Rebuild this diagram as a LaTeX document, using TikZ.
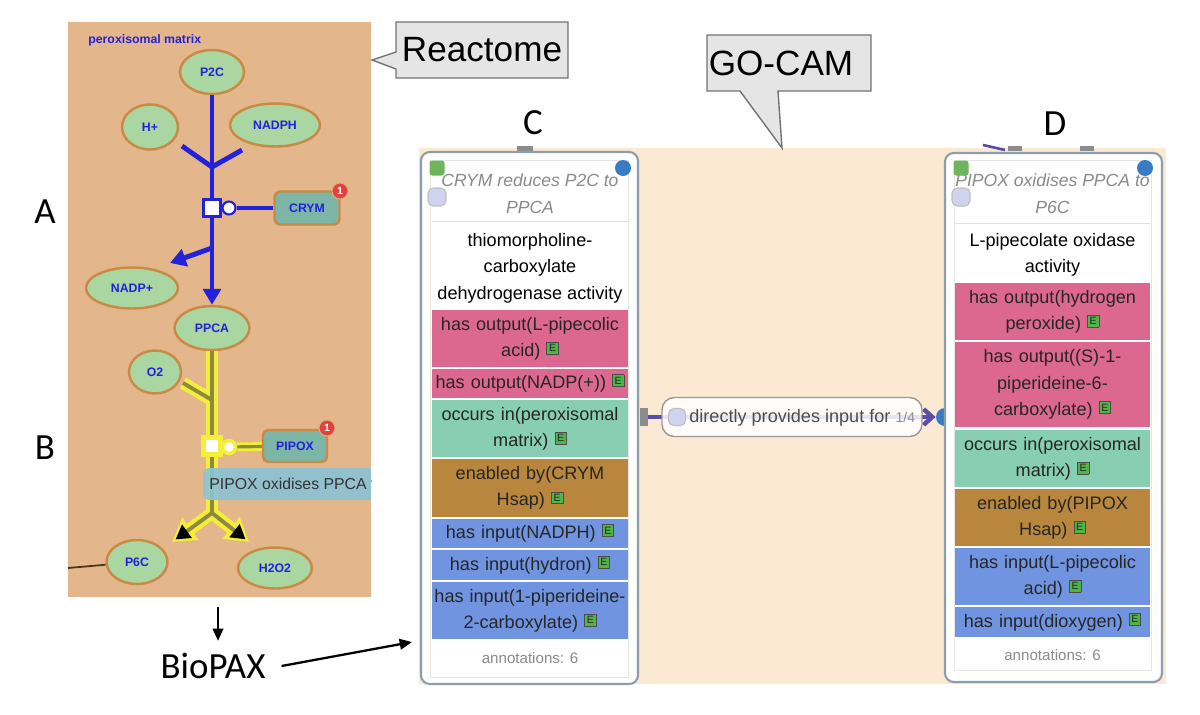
\documentclass[tikz,border=0pt]{standalone}
\usepackage{fontspec}
\setmainfont{Liberation Sans}
\newfontfamily\carlitofont{Carlito}
\usetikzlibrary{arrows.meta,shapes.geometric,positioning}

\definecolor{reactbg}{HTML}{E4B68B}
\definecolor{molfill}{HTML}{A9D6A1}
\definecolor{molline}{HTML}{C98A45}
\definecolor{protfill}{HTML}{7DB6A6}
\definecolor{rblue}{HTML}{2222DC}
\definecolor{hilite}{HTML}{F4EE3A}
\definecolor{stemolive}{HTML}{8C8A3E}
\definecolor{tipblue}{HTML}{8CC3D3}
\definecolor{badgered}{HTML}{E0413C}
\definecolor{gocambg}{HTML}{FCE9D3}
\definecolor{cardline}{HTML}{8E9DAA}
\definecolor{outpink}{HTML}{DC6890}
\definecolor{occteal}{HTML}{87CEB2}
\definecolor{enbrown}{HTML}{B8863C}
\definecolor{inblue}{HTML}{7094E0}
\definecolor{egreen}{HTML}{4FB548}
\definecolor{icongreen}{HTML}{6DB65B}
\definecolor{bubblefill}{HTML}{E5E5E5}
\definecolor{titlegray}{HTML}{8A8A8A}
\definecolor{lavender}{HTML}{CFD3EE}
\definecolor{relpurple}{HTML}{5A4CA8}
\definecolor{dotblue}{HTML}{3A7CC4}

\newcommand{\Ebadge}{~\raisebox{2.5pt}{\setlength{\fboxsep}{1.1pt}\setlength{\fboxrule}{0.4pt}\fcolorbox{black!70}{egreen}{\fontsize{6}{6}\selectfont E}}}

\begin{document}
\begin{tikzpicture}[x=0.02cm,y=-0.02cm,
	mol/.style={ellipse,draw=molline,line width=1.4pt,fill=molfill,text=rblue,font=\bfseries\fontsize{7}{8}\selectfont,inner sep=0pt},
	prot/.style={rectangle,rounded corners=3pt,draw=molline,line width=1.4pt,fill=protfill,text=rblue,font=\bfseries\fontsize{7}{8}\selectfont,inner sep=0pt},
	badge/.style={circle,fill=badgered,draw=molline!70,line width=0.6pt,text=white,font=\bfseries\fontsize{6}{6}\selectfont,inner sep=0pt,minimum size=0.32cm},
	rline/.style={draw=rblue,line width=2.8pt},
	rarrow/.style={rline,-{Triangle[length=9pt,width=10pt]}},
	proc/.style={rectangle,fill=white,draw=rblue,line width=1.2pt,minimum size=0.34cm,inner sep=0pt},
	cat/.style={circle,fill=white,draw=rblue,line width=1.2pt,minimum size=0.26cm,inner sep=0pt},
	hlglow/.style={draw=hilite,line width=7pt},
	hlstem/.style={draw=stemolive,line width=2.2pt},
	tooltip/.style={fill=tipblue,fill opacity=0.92,text opacity=1,rounded corners=3pt,minimum height=0.64cm,inner xsep=0.12cm,text=black!80,font=\fontsize{9}{10}\selectfont},
	bubble/.style={fill=bubblefill,draw=black!55,line width=0.8pt},
	bubblefont/.style={font=\fontsize{20}{24}\selectfont},
	biglabel/.style={font=\carlitofont\fontsize{21}{25}\selectfont},
	blackarrow/.style={line width=1.3pt,-{Triangle[length=7pt,width=6pt]}},
	card/.style={fill=white,draw=cardline,line width=1.2pt,rounded corners=5pt},
	cardtitle/.style={align=center,text=titlegray,font=\titlefont},
	cardtext/.style={align=center,font=\cardfont},
	cardrow/.style={text width=3.86cm,inner xsep=0.03cm,inner ysep=0pt,align=center,text=black!85,font=\cardfont},
	annot/.style={text=titlegray,font=\fontsize{8.6}{10}\selectfont},
	gsq/.style={rectangle,fill=icongreen,rounded corners=1.5pt,minimum size=0.3cm,inner sep=0pt},
	lavsq/.style={rectangle,fill=lavender,draw=black!25,line width=0.6pt,rounded corners=3pt,minimum size=0.36cm,inner sep=0pt},
	bdot/.style={circle,fill=dotblue,minimum size=0.32cm,inner sep=0pt},
	]
	\newcommand{\cardfont}{\fontsize{10.3}{15}\selectfont}
	\newcommand{\titlefont}{\itshape\fontsize{10}{15.3}\selectfont}
	\useasboundingbox (0,0) rectangle (1200,714);
	%reactome panel
	\fill[reactbg] (68,22) rectangle (371,597);
	\node[font=\bfseries\fontsize{7}{8}\selectfont,text=rblue,anchor=west,inner sep=0pt] (compartment) at (88,40) {peroxisomal matrix};
	%molecules
	\node[mol,minimum width=1.28cm,minimum height=0.88cm] (p2c) at (212,72) {P2C};
	\node[mol,minimum width=1.12cm,minimum height=0.9cm] (hplus) at (150,127) {H+};
	\node[mol,minimum width=1.8cm,minimum height=0.86cm] (nadph) at (275,125) {NADPH};
	\node[mol,minimum width=1.84cm,minimum height=0.82cm] (nadpplus) at (132,288) {NADP+};
	\node[mol,minimum width=1.5cm,minimum height=0.88cm] (ppca) at (212,328) {PPCA};
	\node[mol,minimum width=1.04cm,minimum height=0.86cm] (o2) at (155,372) {O2};
	\node[mol,minimum width=1.22cm,minimum height=0.88cm] (p6c) at (137,562) {P6C};
	\node[mol,minimum width=1.48cm,minimum height=0.82cm] (h2o2) at (275,568) {H2O2};
	%first reaction
	\coordinate (j1) at (212,167);
	\coordinate (hplus-end) at (182,146);
	\coordinate (nadph-end) at (242,150);
	\coordinate (s1) at (212,248);
	\coordinate (nadp-tip) at (170,263);
	\draw[rarrow] (p2c.south) -- (ppca.north);
	\draw[rline] (hplus-end) -- (j1);
	\draw[rline] (nadph-end) -- (j1);
	\draw[rarrow] (s1) -- (nadp-tip);
	\node[proc] (proc1) at (212,208) {};
	\node[cat] (cat1) at (229,208) {};
	\node[prot,minimum width=1.3cm,minimum height=0.66cm] (crym) at (307,208) {CRYM};
	\draw[rline] (cat1) -- (crym);
	\node[badge] (crym-badge) at (340,191) {1};
	%second reaction
	\coordinate (j2) at (212,400);
	\coordinate (j3) at (212,513);
	\coordinate (o2-end) at (183,383);
	\coordinate (p6c-tip) at (172,542);
	\coordinate (h2o2-tip) at (249,542);
	\foreach \s/\e in {ppca.south/j3,o2-end/j2}
		\draw[hlglow] (\s) -- (\e);
	\foreach \e in {p6c-tip,h2o2-tip}
		\draw[hlglow,-{Triangle[length=13pt,width=15pt]}] (j3) -- (\e);
	\foreach \s/\e in {ppca.south/j3,o2-end/j2}
		\draw[hlstem] (\s) -- (\e);
	\foreach \e in {p6c-tip,h2o2-tip}
		\draw[hlstem,shorten >=2.5pt,-{Triangle[length=8pt,width=9pt,color=black]}] (j3) -- (\e);
	\node[proc,draw=hilite,line width=2.5pt] (proc2) at (212,446) {};
	\node[cat,draw=hilite,line width=2pt] (cat2) at (229,447) {};
	\node[prot,minimum width=1.28cm,minimum height=0.64cm] (pipox) at (295,446) {PIPOX};
	\draw[hlglow,line width=5pt] (cat2) -- (pipox);
	\draw[hlstem,line width=1.8pt] (cat2) -- (pipox);
	\node[badge] (pipox-badge) at (327,428) {1};
	\begin{scope}
		\clip (68,22) rectangle (371,597);
		\node[tooltip,anchor=west] (tip) at (203,484) {PIPOX oxidises PPCA to P6C};
	\end{scope}
	\coordinate (off-left) at (68,568);
	\draw[draw=black!60!brown,line width=1pt] (off-left) -- (p6c);
	%panel labels
	\node[biglabel] (lbl-a) at (45,212) {A};
	\node[biglabel] (lbl-b) at (45,448) {B};
	\node[biglabel] (lbl-c) at (533,123) {C};
	\node[biglabel] (lbl-d) at (1055,124) {D};
	%biopax
	\node[biglabel,inner xsep=9pt,inner ysep=6.8pt] (biopax) at (213,666) {BioPAX};
	\coordinate (panel-bottom) at (218,607);
	\coordinate (card-c-in) at (412,642);
	\draw[blackarrow] (panel-bottom) -- (panel-bottom |- biopax.north);
	\draw[blackarrow] (biopax.east) -- (card-c-in);
	%go-cam canvas
	\fill[gocambg] (419,148) rectangle (1166,684);
	\fill[black!45] (517,146) rectangle (533,151);
	\fill[black!45] (1008,146) rectangle (1022,151);
	\fill[black!45] (1080,146) rectangle (1094,151);
	\draw[relpurple,line width=1.5pt] (983,145) -- (1005,150);
	\node[bdot,minimum size=0.36cm] (d-port) at (945,417) {};
	%callouts
	\draw[bubble] (396,22) -- (568,22) -- (568,78) -- (396,78) -- (396,69) -- (372,60) -- (396,52) -- cycle;
	\node[bubblefont] (reactome) at (482,50) {Reactome};
	\draw[bubble] (707,35) -- (871,35) -- (871,91) -- (778,91) -- (782,148) -- (740,91) -- (707,91) -- cycle;
	\node[bubblefont] (gocam) at (781,63) {GO-CAM};
	%card C
	\draw[card] (421,152) rectangle (638,684);
	\draw[black!10] (430,160) rectangle (628,677);
	\node[cardtitle] (c-title) at (530,193.5) {CRYM reduces P2C to\\PPCA};
	\draw[black!12] (432,221) -- (628,221);
	\node[cardtext] (c-act) at (530,268) {thiomorpholine-\\carboxylate\\dehydrogenase activity};
	\node[cardrow,fill=outpink,minimum height=1.14cm] (c-out1) at (530,338.5) {has output(L-pipecolic\\acid)\Ebadge};
	\node[cardrow,fill=outpink,minimum height=0.58cm] (c-out2) at (530,383.5) {has output(NADP(+))\Ebadge};
	\node[cardrow,fill=occteal,minimum height=1.14cm] (c-occ) at (530,428.5) {occurs in(peroxisomal\\matrix)\Ebadge};
	\node[cardrow,fill=enbrown,minimum height=1.16cm] (c-enb) at (530,488) {enabled by(CRYM\\Hsap)\Ebadge};
	\node[cardrow,fill=inblue,minimum height=0.58cm] (c-in1) at (530,533.5) {has input(NADPH)\Ebadge};
	\node[cardrow,fill=inblue,minimum height=0.6cm] (c-in2) at (530,565) {has input(hydron)\Ebadge};
	\node[cardrow,fill=inblue,minimum height=1.14cm] (c-in3) at (530,610.5) {has input(1-piperideine-\\2-carboxylate)\Ebadge};
	\node[annot] (c-annot) at (530,658) {annotations: 6};
	\node[gsq] (c-gsq) at (437,168) {};
	\node[lavsq] (c-lav) at (437,197) {};
	\node[bdot] (c-dot) at (623,168) {};
	%card D
	\draw[card] (945,153) rectangle (1162,682);
	\draw[black!10] (954,160) rectangle (1151,670);
	\node[cardtitle] (d-title) at (1052.5,193.5) {PIPOX oxidises PPCA to\\P6C};
	\draw[black!12] (955,223) -- (1150,223);
	\node[cardtext] (d-act) at (1052.5,255) {L-pipecolate oxidase\\activity};
	\node[cardrow,fill=outpink,minimum height=1.14cm] (d-out1) at (1052.5,311.5) {has output(hydrogen\\peroxide)\Ebadge};
	\node[cardrow,fill=outpink,minimum height=1.7cm] (d-out2) at (1052.5,384.5) {has output((S)-1-\\piperideine-6-\\carboxylate)\Ebadge};
	\node[cardrow,fill=occteal,minimum height=1.14cm] (d-occ) at (1052.5,458.5) {occurs in(peroxisomal\\matrix)\Ebadge};
	\node[cardrow,fill=enbrown,minimum height=1.14cm] (d-enb) at (1052.5,517.5) {enabled by(PIPOX\\Hsap)\Ebadge};
	\node[cardrow,fill=inblue,minimum height=1.14cm] (d-in1) at (1052.5,576.5) {has input(L-pipecolic\\acid)\Ebadge};
	\node[cardrow,fill=inblue,minimum height=0.6cm] (d-in2) at (1052.5,622) {has input(dioxygen)\Ebadge};
	\node[annot] (d-annot) at (1052.5,655) {annotations: 6};
	\node[gsq] (d-gsq) at (961,168) {};
	\node[lavsq] (d-lav) at (961,197) {};
	\node[bdot] (d-dot) at (1145,168) {};
	%relation
	\node[rectangle,fill=black!45,minimum width=0.16cm,minimum height=0.36cm,inner sep=0pt] (c-port) at (644,417) {};
	\draw[relpurple,line width=2.5pt,-{Straight Barb[length=5pt,width=9pt]}] (c-port) -- (d-port.west);
	\node[rectangle,rounded corners=7pt,fill=white,fill opacity=0.85,draw=black!40,line width=0.8pt,minimum width=5.2cm,minimum height=0.78cm] (rel) at (792,417) {};
	\node[lavsq,minimum size=0.34cm] (rel-icon) at (677,417) {};
	\node[anchor=west,font=\cardfont,text=black!70,inner sep=0pt] (rel-text) at (689,418) {directly provides input for~\textcolor{black!45}{\fontsize{8}{8}\selectfont 1/4}};
\end{tikzpicture}
\end{document}
